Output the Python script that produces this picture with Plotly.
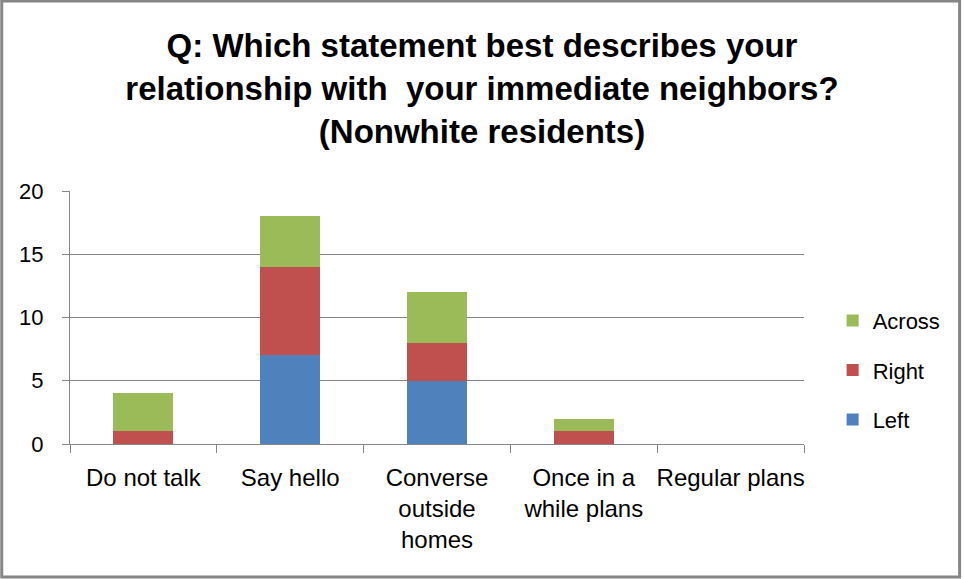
import plotly.graph_objects as go

# Survey responses, stacked by neighbor position
categories = ["Do not talk", "Say hello", "Converse<br>outside<br>homes",
              "Once in a<br>while plans", "Regular plans"]
left = [0, 7, 5, 0, 0]
right = [1, 7, 3, 1, 0]
across = [3, 4, 4, 1, 0]
y_ticks = [0, 5, 10, 15, 20]

title_text = ("Q: Which statement best describes your<br>"
              "relationship with  your immediate neighbors?<br>"
              "(Nonwhite residents)")

FONT = "Liberation Sans, Arial, sans-serif"

fig = go.Figure()
# stacked bottom-to-top; legend lists the top segment first
for name, vals, color, rank in [("Left", left, "#4F81BD", 3),
                                ("Right", right, "#C0504D", 2),
                                ("Across", across, "#9BBB59", 1)]:
    fig.add_trace(go.Bar(x=categories, y=vals, name=name, legendgroup=name,
                         legendrank=rank,
                         marker=dict(color=color, line=dict(width=0))))

fig.update_layout(
    width=964, height=579,
    barmode="stack", bargap=0.59,
    paper_bgcolor="white", plot_bgcolor="white",
    margin=dict(l=70, r=160, t=191, b=135, autoexpand=False),
    font=dict(family=FONT, size=22, color="black"),
    title=dict(text=title_text, x=0.5, xref="container", xanchor="center",
               y=0.902, yref="container", yanchor="top",
               font=dict(family=FONT, size=33, color="black", weight="bold")),
    legend=dict(traceorder="grouped", x=1.039, xanchor="left",
                y=0.292, yanchor="middle",
                font=dict(size=22), tracegroupgap=18, itemwidth=30,
                bgcolor="rgba(0,0,0,0)"),
    showlegend=True,
)
fig.update_xaxes(showline=True, linecolor="#868686", linewidth=1,
                 ticks="outside", tickson="boundaries", ticklen=8,
                 tickcolor="#868686", tickangle=0, ticklabelstandoff=12,
                 tickfont=dict(family=FONT, size=24))
fig.update_yaxes(range=[0, 20], tickvals=y_ticks, showgrid=True,
                 gridcolor="#868686", gridwidth=1, showline=True,
                 linecolor="#868686", linewidth=1, ticks="outside", ticklen=7,
                 tickcolor="#868686", zeroline=False, ticklabelstandoff=14,
                 tickfont=dict(family=FONT, size=22))

# Outer chart frame
fig.add_shape(type="rect", xref="paper", yref="paper", x0=-0.093, x1=1.212,
              y0=-0.526, y1=1.751, line=dict(color="#868686", width=3))

fig.write_html("out.html")
